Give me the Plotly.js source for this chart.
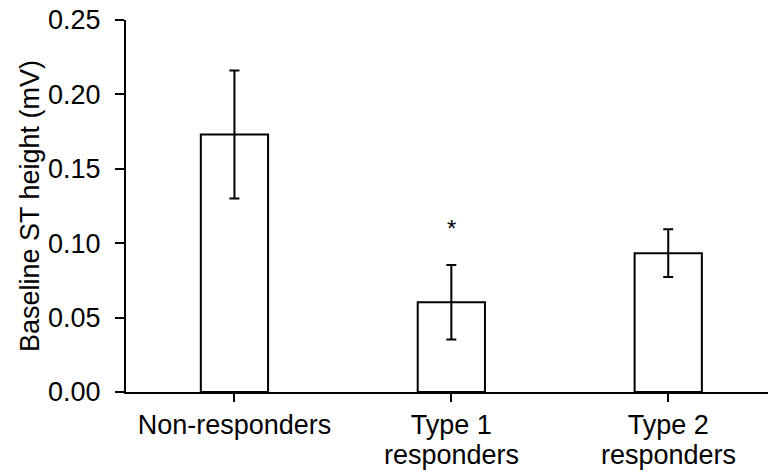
<!DOCTYPE html>
<html>
<head>
<meta charset="utf-8">
<script src="https://cdn.plot.ly/plotly-3.0.1.min.js"></script>
<style>html,body{margin:0;padding:0;background:#fff;}#chart{width:768px;height:470px;}</style>
</head>
<body>
<div id="chart"></div>
<script>
const categories = ["Non-responders", "Type 1<br>responders", "Type 2<br>responders"];
const means = [0.173, 0.0603, 0.0933];
const errors = [0.043, 0.025, 0.016];
const significance = ["", "*", ""];
const yTickVals = [0, 0.05, 0.10, 0.15, 0.20, 0.25];
const yTickText = ["0.00", "0.05", "0.10", "0.15", "0.20", "0.25"];

const font = {family: "Liberation Sans, Arial, sans-serif", size: 27, color: "#000"};

const firstLines = categories.map(c => c.split("<br>")[0]);
const secondLines = categories.map(c => c.split("<br>").slice(1).join(" "));

const trace = {
  type: "bar",
  x: [0, 1, 2],
  y: means,
  width: 0.31,
  marker: {color: "#fff", line: {color: "#000", width: 2}},
  error_y: {type: "data", array: errors, visible: true, color: "#000", thickness: 2, width: 5},
  hoverinfo: "none"
};

const annotations = significance.map((s, i) => ({
  x: i, y: means[i] + errors[i], xref: "x", yref: "y",
  text: s, showarrow: false, yanchor: "bottom", yshift: 21,
  font: {family: font.family, size: 24, color: "#000"}
})).filter(a => a.text).concat(
  secondLines.map((s, i) => ({
    x: i, y: 0, xref: "x", yref: "paper",
    text: s, showarrow: false, yanchor: "middle", yshift: -63,
    font: font
  })).filter(a => a.text)
);

const layout = {
  width: 768, height: 470,
  margin: {l: 126, r: 0, t: 20, b: 78},
  paper_bgcolor: "#fff", plot_bgcolor: "#fff",
  showlegend: false,
  font: font,
  xaxis: {
    range: [-0.5, 2.46],
    tickmode: "array", tickvals: [0, 1, 2], ticktext: firstLines,
    ticks: "outside", tickson: "boundaries", ticklen: 8, tickwidth: 2, tickcolor: "#000",
    showline: true, linecolor: "#000", linewidth: 2,
    showgrid: false, zeroline: false, fixedrange: true,
    tickfont: font
  },
  yaxis: {
    range: [0, 0.25],
    tickmode: "array", tickvals: yTickVals, ticktext: yTickText,
    ticks: "outside", ticklen: 9, tickwidth: 2, tickcolor: "#000",
    ticklabelstandoff: 9,
    showline: true, linecolor: "#000", linewidth: 2,
    showgrid: false, zeroline: false, fixedrange: true,
    tickfont: font,
    title: {text: "Baseline ST height (mV)", font: font, standoff: 1}
  },
  annotations: annotations
};

Plotly.newPlot("chart", [trace], layout, {displayModeBar: false, staticPlot: true});
</script>
</body>
</html>
